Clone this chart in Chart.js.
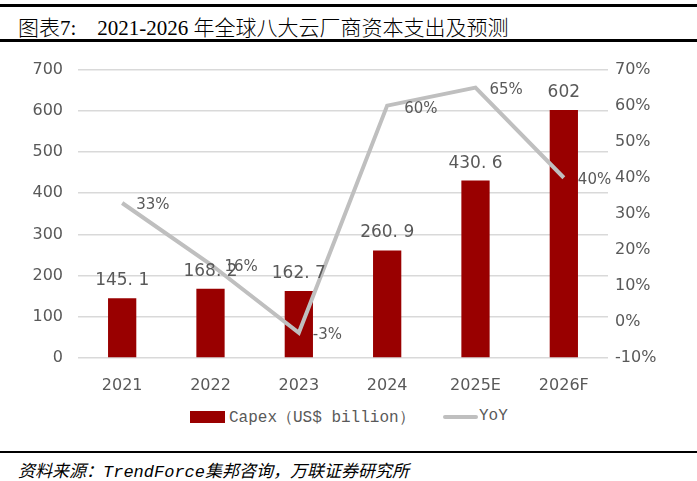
<!DOCTYPE html>
<html><head><meta charset="utf-8">
<script src="https://cdn.jsdelivr.net/npm/chart.js@4/dist/chart.umd.min.js"></script>
<style>
html,body{margin:0;padding:0;background:#fff;}
body{width:697px;height:481px;position:relative;overflow:hidden;}
#title{position:absolute;left:0;top:4px;width:697px;height:38px;border-top:3px solid #000;border-bottom:3px solid #000;box-sizing:border-box;background:#fff;z-index:2;}
#title span{position:absolute;left:18px;top:4px;font-family:"Liberation Serif","Noto Sans CJK SC",serif;font-size:21px;font-weight:300;color:#000;white-space:pre;}
#wrap{position:absolute;left:0;top:45px;width:697px;height:351px;}
#legend{position:absolute;top:406px;left:0;width:697px;height:22px;font-family:"Liberation Mono","DejaVu Sans Mono",monospace;font-size:16px;color:#595959;}
#src{position:absolute;left:0;top:451px;width:697px;border-top:2px solid #000;}
#src span{position:absolute;left:18px;top:4px;font-family:"Liberation Mono","Noto Sans CJK SC",monospace;font-style:italic;font-size:17px;color:#000;white-space:pre;}
</style></head>
<body>
<div id="title"><span>图表7:    2021-2026 年全球八大云厂商资本支出及预测</span></div>
<div id="wrap"><canvas id="c"></canvas></div>
<div id="legend">
  <div style="position:absolute;left:190px;top:5px;width:35px;height:12px;background:#990000"></div>
  <div style="position:absolute;left:229px;top:1px;white-space:pre">Capex（US$ billion）</div>
  <div style="position:absolute;left:443px;top:9px;width:35px;height:4px;background:#BFBFBF;border-radius:2px"></div>
  <div style="position:absolute;left:479px;top:1px;">YoY</div>
</div>
<div id="src"><span>资料来源：TrendForce集邦咨询，万联证券研究所</span></div>
<script>
const categories = ["2021","2022","2023","2024","2025E","2026F"];
const capex = [145.1, 168.2, 162.7, 260.9, 430.6, 602];
const capexLabels = ["145. 1","168. 2","162. 7","260. 9","430. 6","602"];
const yoy = [33, 16, -3, 60, 65, 40];
const yoyLabels = ["33%","16%","-3%","60%","65%","40%"];
const leftTicks = [0,100,200,300,400,500,600,700];
const rightTicks = [-10,0,10,20,30,40,50,60,70];

const labelPlugin = {
  id: 'labels',
  afterDatasetsDraw(chart) {
    const ctx = chart.ctx;
    ctx.save();
    ctx.fillStyle = '#595959';
    ctx.font = '17px "DejaVu Sans", sans-serif';
    ctx.textAlign = 'center';
    ctx.textBaseline = 'bottom';
    chart.getDatasetMeta(0).data.forEach((el, i) => {
      ctx.fillText(capexLabels[i], el.x, el.y - 9);
    });
    ctx.font = '15px "DejaVu Sans", sans-serif';
    ctx.textAlign = 'left';
    ctx.textBaseline = 'middle';
    chart.getDatasetMeta(1).data.forEach((el, i) => {
      let dx = 14, dy = 2;
      if (i === 3) { dx = 17; dy = 3; }
      if (i === 1) { dx = 14; dy = 3; }
      ctx.fillText(yoyLabels[i], el.x + dx, el.y + dy);
    });
    ctx.restore();
  }
};

new Chart(document.getElementById('c'), {
  data: {
    labels: categories,
    datasets: [
      { type: 'bar', label: 'Capex（US$ billion）', data: capex, backgroundColor: '#990000', yAxisID: 'y', categoryPercentage: 1, barPercentage: 0.32, order: 2 },
      { type: 'line', label: 'YoY', data: yoy, borderColor: '#BFBFBF', borderWidth: 4, pointRadius: 0, yAxisID: 'y1', tension: 0, order: 1 }
    ]
  },
  options: {
    responsive: true, maintainAspectRatio: false, animation: false,
    layout: { padding: { top: 0, left: 0, right: 0, bottom: 0 } },
    plugins: { legend: { display: false }, tooltip: { enabled: false } },
    scales: {
      x: {
        grid: { display: false }, border: { display: false },
        ticks: { color: '#595959', font: { family: '"DejaVu Sans", sans-serif', size: 16 }, padding: 10 },
        afterFit(s) { s.height = 38; }
      },
      y: {
        position: 'left', min: 0, max: 700,
        afterBuildTicks(s) { s.ticks = leftTicks.map(v => ({ value: v })); },
        grid: { color: '#D9D9D9', lineWidth: 1.5, drawTicks: false }, border: { display: false },
        ticks: { color: '#595959', font: { family: '"DejaVu Sans", sans-serif', size: 16 }, padding: 15 },
        afterFit(s) { s.width = 78; }
      },
      y1: {
        position: 'right', min: -10, max: 70,
        afterBuildTicks(s) { s.ticks = rightTicks.map(v => ({ value: v })); },
        grid: { display: false, drawTicks: false }, border: { display: false },
        ticks: { color: '#595959', font: { family: '"DejaVu Sans", sans-serif', size: 16 }, padding: 7, callback: v => v + '%' },
        afterFit(s) { s.width = 89; }
      }
    }
  },
  plugins: [labelPlugin]
});
</script>
</body></html>
